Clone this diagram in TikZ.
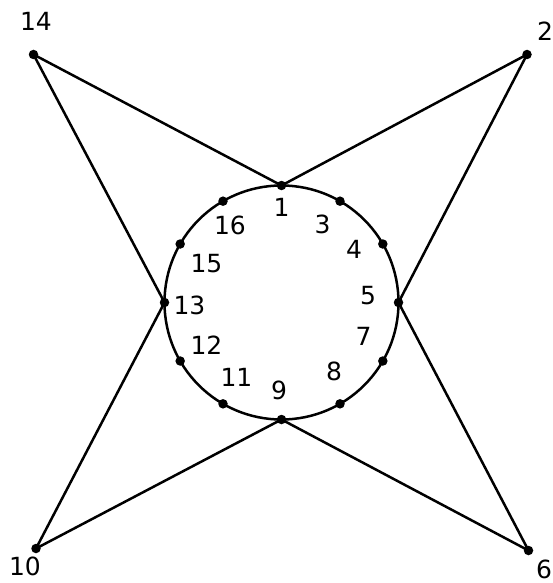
\documentclass[tikz,border=0pt]{standalone}
\usepackage{fontspec}
\newfontfamily\numfont{DejaVu Sans}
\usetikzlibrary{positioning, calc}

\begin{document}
\begin{tikzpicture}[
    x=1pt, y=-1pt,
    vertex/.style={circle, fill=black, inner sep=0pt, minimum size=9.5pt},
    edge/.style={line width=2.5pt},
    num/.style={font=\numfont\fontsize{25}{25}\selectfont, inner sep=0pt}
]
\useasboundingbox (0,0) rectangle (552,583);

%% ── Circle with its twelve vertices ────────────────────────────────────────
\coordinate (c) at (281.5,302.5);
\draw[edge] (c) circle (117pt);

\foreach \a/\n in {90/1, 60/3, 30/4, 0/5, -30/7, -60/8, -90/9,
                   -120/11, -150/12, 180/13, 150/15, 120/16}
    \node[vertex] (v\n) at ($(c)+(\a:117pt)$) {};

% Labels inside the circle
\foreach \n/\x/\y in {1/281.5/207, 3/322.5/224.5, 4/354/249.5, 5/368/295.5,
                      7/363.5/336.5, 8/334/371.5, 9/279/390.5, 11/236.5/377,
                      12/206.5/345, 13/189.5/305, 15/206.5/263.5, 16/230/225.5}
    \node[num] (l\n) at (\x,\y) {\n};

%% ── Outer vertices ─────────────────────────────────────────────────────────
\node[vertex] (v14) at (33.5,54.5)  {};
\node[vertex] (v2)  at (527,54.5)   {};
\node[vertex] (v10) at (36,548.5)   {};
\node[vertex] (v6)  at (528.5,550.5) {};

\node[num] (l14) at (36,21)    {14};
\node[num] (l2)  at (545,31)   {2};
\node[num] (l10) at (25,566.5) {10};
\node[num] (l6)  at (544,569)  {6};

%% ── Star edges ─────────────────────────────────────────────────────────────
\draw[edge] (v14.center) -- (v1.center);
\draw[edge] (v14.center) -- (v13.center);
\draw[edge] (v2.center)  -- (v1.center);
\draw[edge] (v2.center)  -- (v5.center);
\draw[edge] (v10.center) -- (v13.center);
\draw[edge] (v10.center) -- (v9.center);
\draw[edge] (v6.center)  -- (v9.center);
\draw[edge] (v6.center)  -- (v5.center);

\end{tikzpicture}
\end{document}
